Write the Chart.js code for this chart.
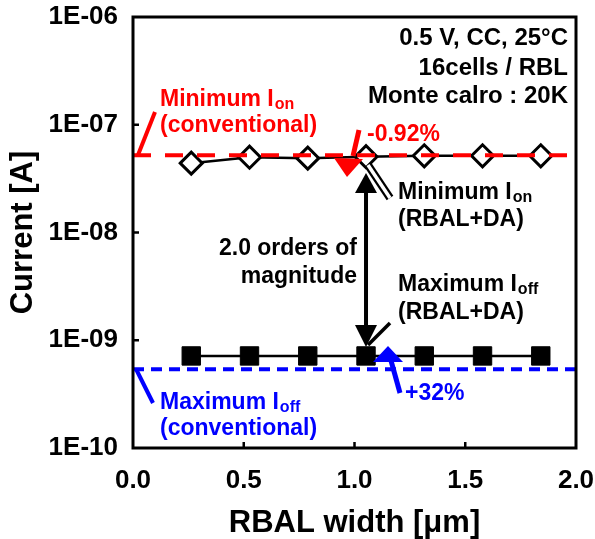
<!DOCTYPE html>
<html><head><meta charset="utf-8">
<script src="https://cdn.jsdelivr.net/npm/chart.js@4/dist/chart.umd.min.js"></script>
<style>html,body{margin:0;padding:0;background:#fff;}#wrap{width:595px;height:539px;}</style>
</head><body><div id="wrap"><canvas id="c" width="595" height="539"></canvas></div>
<script>
// ---- data ----
const rbalWidth   = [0.263, 0.526, 0.789, 1.052, 1.315, 1.578, 1.841];
const minIonRbal  = [4.4e-8, 5.0e-8, 4.9e-8, 5.05e-8, 5.15e-8, 5.15e-8, 5.15e-8];
const maxIoffRbal = [7.15e-10, 7.15e-10, 7.15e-10, 7.15e-10, 7.15e-10, 7.15e-10, 7.15e-10];
const convRange   = [0, 2];
const minIonConv  = 5.2e-8;
const maxIoffConv = 5.38e-10;
const yTickValues = [1e-10, 1e-9, 1e-8, 1e-7, 1e-6];
const xTickValues = [0, 0.5, 1.0, 1.5, 2.0];

const FF = "'Liberation Sans', Arial, sans-serif";
const RED = '#ff0000', BLUE = '#0000ff';
const AS = 23; // annotation font size

function fmtE(v){
  const e = Math.round(Math.log10(v));
  const m = Math.round(v / Math.pow(10, e));
  return m + 'E' + (e < 0 ? '-' : '+') + String(Math.abs(e)).padStart(2, '0');
}

function line(ctx, x1, y1, x2, y2, w, c){
  ctx.save(); ctx.strokeStyle = c; ctx.lineWidth = w; ctx.lineCap = 'butt';
  ctx.beginPath(); ctx.moveTo(x1, y1); ctx.lineTo(x2, y2); ctx.stroke(); ctx.restore();
}
function tri(ctx, pts, c){
  ctx.save(); ctx.fillStyle = c; ctx.beginPath();
  ctx.moveTo(pts[0][0], pts[0][1]); ctx.lineTo(pts[1][0], pts[1][1]); ctx.lineTo(pts[2][0], pts[2][1]);
  ctx.closePath(); ctx.fill(); ctx.restore();
}
function txt(ctx, s, x, y, c, align, size){
  ctx.save(); ctx.font = 'bold ' + (size || AS) + 'px ' + FF; ctx.fillStyle = c;
  ctx.textAlign = align || 'left'; ctx.textBaseline = 'alphabetic'; ctx.fillText(s, x, y); ctx.restore();
}
function subTxt(ctx, main, sub, x, y, c){
  ctx.save(); ctx.font = 'bold ' + AS + 'px ' + FF; ctx.fillStyle = c; ctx.textAlign = 'left';
  ctx.textBaseline = 'alphabetic'; ctx.fillText(main, x, y);
  const w = ctx.measureText(main).width;
  ctx.font = 'bold 16px ' + FF; ctx.fillText(sub, x + w + 1, y + 3); ctx.restore();
}

const annot = {
  id: 'annot',
  afterDatasetsDraw(chart){
    const ctx = chart.ctx, ca = chart.chartArea;
    const xs = chart.scales.x, ys = chart.scales.y;
    // frame
    ctx.save(); ctx.strokeStyle = '#000'; ctx.lineWidth = 3;
    ctx.strokeRect(ca.left, ca.top, ca.right - ca.left, ca.bottom - ca.top);
    // inward ticks
    ctx.lineWidth = 2.5; ctx.beginPath();
    yTickValues.slice(1, -1).forEach(v => { const y = ys.getPixelForValue(v); ctx.moveTo(ca.left, y); ctx.lineTo(ca.left + 6, y); });
    xTickValues.slice(1, -1).forEach(v => { const x = xs.getPixelForValue(v); ctx.moveTo(x, ca.bottom); ctx.lineTo(x, ca.bottom - 6); });
    ctx.stroke(); ctx.restore();

    // top-right conditions
    txt(ctx, '0.5 V, CC, 25°C', 568, 45, '#000', 'right', 24);
    txt(ctx, '16cells / RBL', 568, 75, '#000', 'right', 24);
    txt(ctx, 'Monte calro : 20K', 568, 103, '#000', 'right', 24);

    // red conventional Ion label
    line(ctx, 138, 155, 155, 112, 4, RED);
    subTxt(ctx, 'Minimum I', 'on', 160, 106, RED);
    txt(ctx, '(conventional)', 160, 132, RED);
    // red arrow -0.92%
    line(ctx, 359, 130, 353, 156, 5, RED);
    tri(ctx, [[334, 158], [363, 159], [347, 177]], RED);
    txt(ctx, '-0.92%', 367, 141, RED);

    // black double arrow
    const ax = xs.getPixelForValue(rbalWidth[3]);
    line(ctx, ax, 190, ax, 327, 4, '#000');
    tri(ctx, [[ax, 173], [ax - 11, 193], [ax + 11, 193]], '#000');
    tri(ctx, [[ax, 347], [ax - 11, 325], [ax + 11, 325]], '#000');
    // leaders
    line(ctx, 368, 165, 390, 198, 8, '#000');
    line(ctx, 368, 165, 390, 198, 3.5, '#fff');
    line(ctx, 368, 345, 390, 323, 3.5, '#000');

    subTxt(ctx, 'Minimum I', 'on', 398, 199, '#000');
    txt(ctx, '(RBAL+DA)', 398, 226, '#000');
    txt(ctx, '2.0 orders of', 357, 255, '#000', 'right');
    txt(ctx, 'magnitude', 357, 283, '#000', 'right');
    subTxt(ctx, 'Maximum I', 'off', 398, 291, '#000');
    txt(ctx, '(RBAL+DA)', 398, 319, '#000');

    // blue arrow +32%
    line(ctx, 390, 357, 400, 393, 5, BLUE);
    tri(ctx, [[388, 346], [373, 362], [403, 362]], BLUE);
    txt(ctx, '+32%', 405, 400, BLUE);
    // blue conventional Ioff label
    line(ctx, 136, 369, 153, 403, 4, BLUE);
    subTxt(ctx, 'Maximum I', 'off', 160, 409, BLUE);
    txt(ctx, '(conventional)', 160, 435, BLUE);
  }
};

function zeroPad(s){ s.paddingLeft = 0; s.paddingRight = 0; s.paddingTop = 0; s.paddingBottom = 0; }

new Chart(document.getElementById('c'), {
  type: 'scatter',
  data: {
    datasets: [
      { label: 'Minimum Ion (conventional)', order: 0,
        data: convRange.map(x => ({x, y: minIonConv})), showLine: true,
        borderColor: RED, borderWidth: 4, borderDash: [18, 14], pointRadius: 0, clip: false },
      { label: 'Maximum Ioff (conventional)', order: 1,
        data: convRange.map(x => ({x, y: maxIoffConv})), showLine: true,
        borderColor: BLUE, borderWidth: 4, borderDash: [11, 7], pointRadius: 0, clip: false },
      { label: 'Minimum Ion (RBAL+DA)', order: 2,
        data: rbalWidth.map((x, i) => ({x, y: minIonRbal[i]})), showLine: true,
        borderColor: '#000', borderWidth: 2.5, pointStyle: 'rectRot', pointRadius: 11,
        pointBackgroundColor: '#fff', pointBorderColor: '#000', pointBorderWidth: 3 },
      { label: 'Maximum Ioff (RBAL+DA)', order: 3,
        data: rbalWidth.map((x, i) => ({x, y: maxIoffRbal[i]})), showLine: true,
        borderColor: '#000', borderWidth: 2.5, pointStyle: 'rect', pointRadius: 13,
        pointBackgroundColor: '#000', pointBorderColor: '#000', pointBorderWidth: 1 }
    ]
  },
  options: {
    responsive: false, animation: false, devicePixelRatio: 1,
    layout: { padding: { top: 17, right: 19, left: 0, bottom: 0 } },
    plugins: { legend: { display: false }, tooltip: { enabled: false } },
    scales: {
      x: {
        type: 'linear', min: 0, max: 2,
        afterBuildTicks: s => { s.ticks = xTickValues.map(v => ({value: v})); },
        afterFit: s => { s.height = 91; zeroPad(s); },
        grid: { display: false, drawTicks: false }, border: { display: false },
        ticks: { color: '#000', font: { family: FF, size: 26, weight: 'bold' }, padding: 17,
                 maxRotation: 0, callback: v => Number(v).toFixed(1) },
        title: { display: true, text: 'RBAL width [μm]', color: '#000',
                 font: { family: FF, size: 31, weight: 'bold' }, padding: { top: 0, bottom: -3 } }
      },
      y: {
        type: 'logarithmic', min: 1e-10, max: 1e-6,
        afterBuildTicks: s => { s.ticks = yTickValues.map(v => ({value: v})); },
        afterFit: s => { s.width = 133; zeroPad(s); },
        grid: { display: false, drawTicks: false }, border: { display: false },
        ticks: { color: '#000', font: { family: FF, size: 26, weight: 'bold' }, padding: 15,
                 callback: v => fmtE(v) },
        title: { display: true, text: 'Current [A]', color: '#000',
                 font: { family: FF, size: 31, weight: 'bold' }, padding: { top: 5, bottom: 0 } }
      }
    }
  },
  plugins: [annot]
});
</script>
</body></html>
